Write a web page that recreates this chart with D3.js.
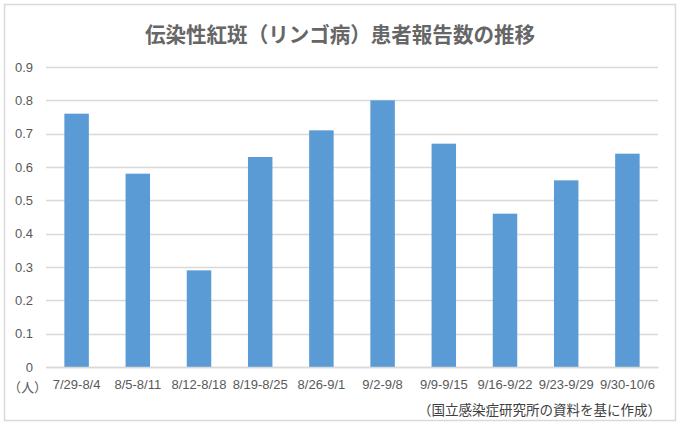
<!DOCTYPE html>
<meta charset="utf-8">
<head>
<style>
body { margin: 0; background: #fff; }
.tick text { fill: #595959; }
</style>
</head>
<script src="https://d3js.org/d3.v7.min.js"></script>
<div id="chart"></div>
<script>

// data
var weeks = ["7/29-8/4", "8/5-8/11", "8/12-8/18", "8/19-8/25", "8/26-9/1",
             "9/2-9/8", "9/9-9/15", "9/16-9/22", "9/23-9/29", "9/30-10/6"];
var patients = [0.76, 0.58, 0.29, 0.63, 0.71, 0.80, 0.67, 0.46, 0.56, 0.64];
var yTicks = [0, 0.1, 0.2, 0.3, 0.4, 0.5, 0.6, 0.7, 0.8, 0.9];

var W = 680, H = 429;
var margin = {top: 67, right: 22, bottom: 62, left: 46},
    width = W - margin.left - margin.right,
    height = H - margin.top - margin.bottom;

var svg = d3.select("#chart")
  .append("svg")
    .attr("width", W)
    .attr("height", H);

// outer frame
svg.append("rect")
  .attr("x", 4.5).attr("y", 4.5)
  .attr("width", 671).attr("height", 416)
  .attr("fill", "#fff")
  .attr("stroke", "#d9d9d9")
  .attr("stroke-width", 1.5);

// title
svg.append("text")
  .attr("x", W / 2)
  .attr("y", 42)
  .attr("text-anchor", "middle")
  .attr("textLength", 390)
  .attr("lengthAdjust", "spacingAndGlyphs")
  .style("font-family", "'Noto Sans CJK JP', sans-serif")
  .style("font-size", "21px")
  .style("font-weight", "bold")
  .style("fill", "#666666")
  .text("伝染性紅斑（リンゴ病）患者報告数の推移");

var g = svg.append("g")
  .attr("transform", "translate(" + margin.left + "," + margin.top + ")");

var x = d3.scaleBand()
  .domain(weeks)
  .range([0, width])
  .paddingInner(0.6)
  .paddingOuter(0.3);

var y = d3.scaleLinear()
  .domain([0, 0.9])
  .range([height, 0]);

// gridlines
g.append("g")
  .selectAll("line")
  .data(yTicks)
  .join("line")
    .attr("x1", 0)
    .attr("x2", width)
    .attr("y1", function(d) { return Math.round(y(d)) + 0.5; })
    .attr("y2", function(d) { return Math.round(y(d)) + 0.5; })
    .attr("stroke", "#d9d9d9")
    .attr("stroke-width", 1.3);

// y axis labels
var yAxis = g.append("g")
  .call(d3.axisLeft(y).tickValues(yTicks).tickSize(0).tickPadding(13)
    .tickFormat(function(d) { return d === 0 ? "0" : d3.format(".1f")(d); }));
yAxis.select(".domain").remove();
yAxis.selectAll("text")
  .style("font-family", "'Liberation Sans', Arial, sans-serif")
  .style("font-size", "13px");

// bars
g.selectAll("rect.bar")
  .data(patients)
  .join("rect")
    .attr("class", "bar")
    .attr("x", function(d, i) { return x(weeks[i]); })
    .attr("y", function(d) { return y(d); })
    .attr("width", x.bandwidth())
    .attr("height", function(d) { return height - y(d); })
    .attr("fill", "#5b9bd5");

// x axis
var xAxis = g.append("g")
  .attr("transform", "translate(0," + height + ")")
  .call(d3.axisBottom(x).tickSize(0).tickPadding(13));
xAxis.select(".domain").attr("stroke", "#d9d9d9").attr("stroke-width", 1.3);
xAxis.selectAll("text")
  .style("font-family", "'Liberation Sans', Arial, sans-serif")
  .style("font-size", "13px");

// unit label
svg.append("text")
  .attr("x", 8)
  .attr("y", 392)
  .style("font-family", "'Noto Sans CJK JP', sans-serif")
  .style("font-size", "13px")
  .style("fill", "#595959")
  .text("（人）");

// source note
svg.append("text")
  .attr("x", 661)
  .attr("y", 415)
  .attr("text-anchor", "end")
  .style("font-family", "'Noto Sans CJK JP', sans-serif")
  .style("font-size", "13.5px")
  .style("fill", "#404040")
  .text("（国立感染症研究所の資料を基に作成）");

</script>
